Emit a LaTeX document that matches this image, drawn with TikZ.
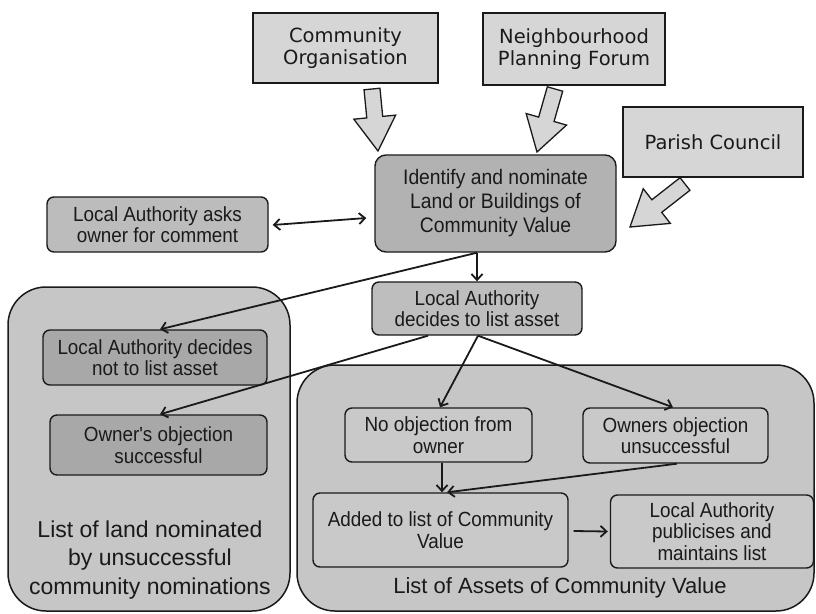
\documentclass[tikz,border=0pt]{standalone}
\usepackage{fontspec}
\setmainfont{Liberation Sans}
\newfontfamily\topfont{DejaVu Sans}
\newfontfamily\boxfont[FakeStretch=0.92]{Liberation Sans}
\usetikzlibrary{calc,arrows.meta}
\definecolor{topfill}{HTML}{D6D6D6}
\definecolor{centfill}{HTML}{B2B2B2}
\definecolor{regfill}{HTML}{C6C6C6}
\definecolor{darkfill}{HTML}{A8A8A8}
\definecolor{askfill}{HTML}{BCBCBC}
\definecolor{decfill}{HTML}{BEBEBE}
\definecolor{innerfill}{HTML}{C9C9C9}
\definecolor{ink}{HTML}{1A1A1A}
\tikzset{
  topbox/.style={draw=ink, line width=1.8pt, fill=topfill, inner sep=0pt, align=center,
    font=\topfont\fontsize{19.5}{22}\selectfont, text=ink},
  rbox/.style={draw=ink, line width=1.4pt, rounded corners=7pt, inner sep=0pt, align=center,
    font=\boxfont\fontsize{20.5}{21.5}\selectfont, text=ink},
  region/.style={draw=ink, line width=1.5pt, fill=regfill, rounded corners=38pt},
  conn/.style={draw=ink, line width=1.8pt, -{Straight Barb[length=6pt,width=11pt,line width=1.8pt]}},
  dconn/.style={draw=ink, line width=1.8pt, {Straight Barb[length=6pt,width=11pt,line width=1.8pt]}-{Straight Barb[length=6pt,width=11pt,line width=1.8pt]}},
  blk/.style={draw=ink, line width=1.3pt, fill=topfill, line join=miter},
  regtext/.style={align=center, font=\fontsize{23}{28.5}\selectfont, text=ink, inner sep=0pt}
}
\newcommand{\blockarr}[4]{% start, end, shaft half width, head half width
  \coordinate (bh) at ($(#2)!34pt!(#1)$);
  \draw[blk] ($(#1)!#3!90:(#2)$) -- ($(bh)!#3!-90:(#1)$) -- ($(bh)!#4!-90:(#1)$) -- (#2)
    -- ($(bh)!#4!90:(#1)$) -- ($(bh)!#3!90:(#1)$) -- ($(#1)!#3!-90:(#2)$) -- cycle;}
\begin{document}
\begin{tikzpicture}[x=1pt,y=-1pt]
\useasboundingbox[fill=white] (0,0) rectangle (816,613);
% regions
\draw[region] (8,287) rectangle (290,611);
\draw[region] (297,365) rectangle (814,611);
% top boxes
\node[topbox, minimum width=185pt, minimum height=70pt] (co) at (345.5,48) {Community\\Organisation};
\node[topbox, minimum width=182pt, minimum height=72pt] (npf) at (574,49) {Neighbourhood\\Planning Forum};
\node[topbox, minimum width=180pt, minimum height=70pt] (pc) at (713,142) {Parish Council};
% central
\node[rbox, fill=centfill, rounded corners=11pt, minimum width=241pt, minimum height=97pt,
  font=\boxfont\fontsize{21}{24}\selectfont] (cent) at (495.5,203.5) {Identify and nominate\\Land or Buildings of\\Community Value};
\node[rbox, fill=askfill, minimum width=221pt, minimum height=55pt] (ask) at (157.5,224.5) {Local Authority asks\\owner for comment};
\node[rbox, fill=decfill, minimum width=210pt, minimum height=53pt] (dec) at (477,308.5) {Local Authority\\decides to list asset};
% left region boxes
\node[rbox, fill=darkfill, minimum width=224pt, minimum height=55pt] (notl) at (155,357.5) {Local Authority decides\\not to list asset};
\node[rbox, fill=darkfill, minimum width=217pt, minimum height=60pt] (oos) at (158.5,445) {Owner's objection\\successful};
\node[regtext] (lt) at (150,560) {List of land nominated\\by unsuccessful\\community nominations};
% right region boxes
\node[rbox, fill=innerfill, minimum width=187pt, minimum height=54pt] (noobj) at (438.5,435) {No objection from\\owner};
\node[rbox, fill=innerfill, minimum width=185pt, minimum height=55pt] (ownu) at (675.5,435.5) {Owners objection\\unsuccessful};
\node[rbox, fill=innerfill, minimum width=255pt, minimum height=74pt] (added) at (440.5,530) {Added to list of Community\\Value};
\node[rbox, fill=innerfill, minimum width=203pt, minimum height=73pt] (pub) at (712,531.5) {Local Authority\\publicises and\\maintains list};
\node[regtext, font=\fontsize{22}{26}\selectfont] (rt) at (560,588) {List of Assets of Community Value};
% block arrows
\coordinate (b1s) at (372,89);
\coordinate (b1e) at (378,151);
\coordinate (b2s) at (555,89);
\coordinate (b2e) at (537,152);
\coordinate (b3s) at (685,184);
\coordinate (b3e) at (630,227);
\blockarr{b1s}{b1e}{8pt}{21pt}
\blockarr{b2s}{b2e}{8pt}{21pt}
\blockarr{b3s}{b3e}{8pt}{22pt}
% connectors
\draw[dconn] ($(ask.east)+(4,0.5)$) -- ($(cent.west)+(-8,14.5)$);
\draw[conn] (dec.north |- cent.south) -- (dec.north);
\draw[conn] (dec.north |- cent.south) -- ($(notl.north)+(5,0)$);
\draw[conn] ($(dec.south)+(-49,0)$) -- ($(oos.north)+(1.5,0)$);
\draw[conn] ($(dec.south)+(1,0)$) -- ($(noobj.north)+(1.5,0)$);
\draw[conn] ($(dec.south)+(1,0)$) -- ($(ownu.north)+(-2.5,0)$);
\draw[conn] ($(noobj.south)+(3.5,0)$) -- ($(added.north)+(1.5,0)$);
\draw[conn] ($(ownu.south)+(1.5,0)$) -- ($(added.north)+(6.5,0)$);
\draw[conn] ($(added.east)+(5,1)$) -- ($(pub.west)+(-2,0)$);
\end{tikzpicture}
\end{document}
